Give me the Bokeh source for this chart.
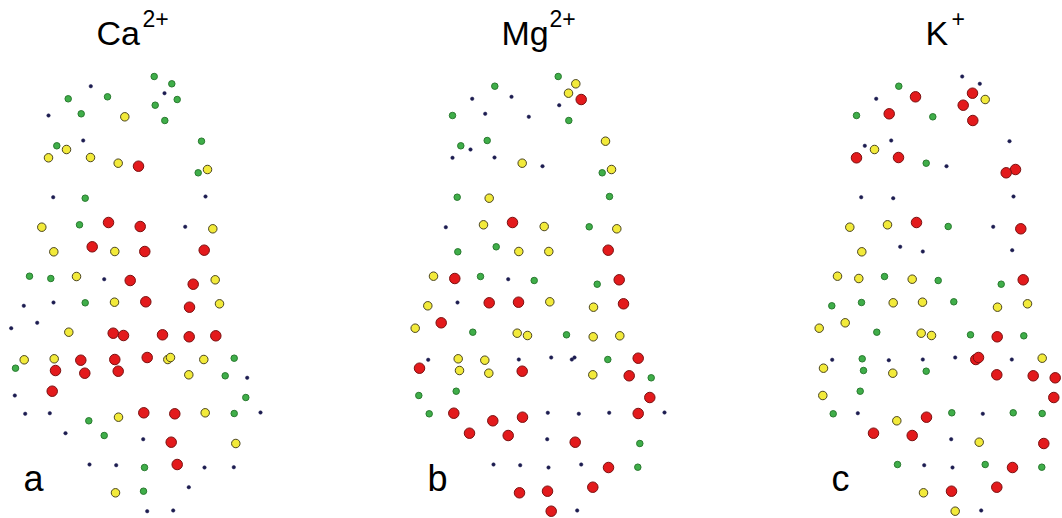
from bokeh.plotting import figure
from bokeh.layouts import row
from bokeh.models import Range1d, Label, ColumnDataSource
from bokeh.embed import file_html
from bokeh.resources import INLINE

# Sampling-site positions (shared by all three maps)
site_x = [153.7, 171.3, 90.3, 164, 67.7, 107, 176.7, 154.7, 48, 80.7,
          124.3, 164.3, 82.7, 201, 56.3, 66, 48, 90, 117.7, 138,
          207, 197.7, 52.7, 84.7, 205, 41.3, 79, 108, 139.7, 184.7,
          212.3, 53.3, 91.7, 114.3, 144.3, 203.7, 29, 50.3, 76, 103.7,
          129.7, 192.7, 214.7, 23.3, 53, 84.7, 114, 145.3, 189, 219,
          10.7, 36.7, 68.3, 112.7, 123, 162, 188.7, 215.3, 23.7, 53.7,
          80.3, 114.3, 146.7, 167.3, 170, 203.3, 233.7, 15, 55, 84.3,
          117.7, 188.3, 224.7, 246.7, 14.3, 51.7, 245.3, 24.7, 49.3, 88.3,
          118, 143.3, 174.3, 204.7, 233.7, 260, 65, 103.7, 142.7, 170.7,
          235.3, 89, 115.7, 144, 176.7, 204, 233.3, 115, 143, 188.3,
          146.7, 172.7]
site_y = [76, 83.3, 85.7, 92.7, 98.3, 96.3, 99, 104.7, 115, 113.3,
          116.3, 120, 140, 140.7, 145.3, 149, 157.3, 157, 162.7, 165.7,
          169, 172.3, 196.7, 197.7, 196, 226.7, 224.3, 222, 226, 226.3,
          228.3, 251.3, 246.3, 251, 251, 249.7, 275.7, 278, 276, 278.7,
          280, 283.7, 279.3, 305.3, 302, 302.3, 301.7, 301.3, 306.7, 303.3,
          327.7, 322.3, 331.7, 332.7, 335, 334.3, 336.3, 335.3, 359.3, 358.3,
          359.7, 359, 357, 359, 357, 359, 357.7, 367.7, 370, 372.7,
          370.7, 374.3, 375.3, 377.3, 395, 390.7, 397, 413.3, 412.7, 420.3,
          416.7, 412.3, 413.3, 412.3, 413, 412, 432.7, 435, 438.7, 441.7,
          443, 464, 464.7, 467, 464, 467, 466.7, 492.3, 490.7, 486.7,
          510.7, 510]

# Concentration class per site: D (lowest), G, Y, R (highest), "-" = no value
class_ca = list("GGDDGGGGDG" "YGDGGYYYYR" "YGDGDYGRRD" "YYRYRRGGYD" "RRYDDGYRRY"
                "DDYRRRRRYY" "RRRYYYGGRR" "RYGDDRGDDG" "YRRYGDDGDR" "YDDGRDDYGD" "DD")
class_mg = list("GYGYDDRDGD" "DGGYGDDDYD" "YGGYGDYRYG" "YGGYYRYRGD" "GGRYDRRYYR"
                "YRGYYGYYDY" "YDDDDGRRYY" "RYRGGGRGRR" "RDDDRDRRDR" "GDDDDRGRRR" "RD")
class_k = list("DDGRDRYRGR" "GRDDDYRRGD" "RRDDDYYRGD" "RYDD-DYYGY" "GGRGGYYGYY"
               "YYGYYGRGDG" "DDDRRDYYGY" "GRRRYGRGDY" "RGDGGDRRDY" "RGDDGRGYRR" "YD")

ions = ["Ca", "Mg", "K"]
charges = ["2+", "2+", "+"]
letters = ["a", "b", "c"]
classes = [class_ca, class_mg, class_k]

# styles
STYLE = {
    "D": dict(size=3.5, fill="#1c1c50", line="#1c1c50", lw=0.5),
    "G": dict(size=6.5, fill="#3fae49", line="#2a7a30", lw=1),
    "Y": dict(size=8.5, fill="#f2ea3a", line="#4a4420", lw=1),
    "R": dict(size=10.5, fill="#e31a1c", line="#7a1010", lw=1),
}
FONT = "Liberation Sans"
widths = [404, 404, 254]
xr = [(0, 404), (0, 404), (0, 254)]
ion_x = [96, 97, 117]
chg_x = [142, 145, 143]

figs = []
for i in range(3):
    p = figure(width=widths[i], height=518, output_backend="svg", toolbar_location=None,
               x_range=Range1d(*xr[i]), y_range=Range1d(518, 0),
               x_axis_location=None, y_axis_location=None, min_border=0)
    p.grid.visible = False
    p.outline_line_color = None
    p.background_fill_color = "white"
    p.border_fill_color = "white"
    for c in ["D", "G", "Y", "R"]:
        idx = [j for j, v in enumerate(classes[i]) if v == c]
        src = ColumnDataSource(dict(x=[site_x[j] for j in idx], y=[site_y[j] for j in idx]))
        st = STYLE[c]
        p.scatter("x", "y", source=src, marker="circle", size=st["size"],
                  fill_color=st["fill"], line_color=st["line"], line_width=st["lw"])
    p.add_layout(Label(x=ion_x[i], y=32, text=ions[i], text_font=FONT,
                       text_font_size="34px", text_color="black", text_baseline="alphabetic"))
    p.add_layout(Label(x=chg_x[i], y=18, text=charges[i], text_font=FONT,
                       text_font_size="23px", text_color="black", text_baseline="alphabetic"))
    p.add_layout(Label(x=23, y=478, text=letters[i], text_font=FONT,
                       text_font_size="36px", text_color="black", text_baseline="alphabetic"))
    figs.append(p)

layout = row(*figs)
open("out.html", "w").write(file_html(layout, INLINE))
